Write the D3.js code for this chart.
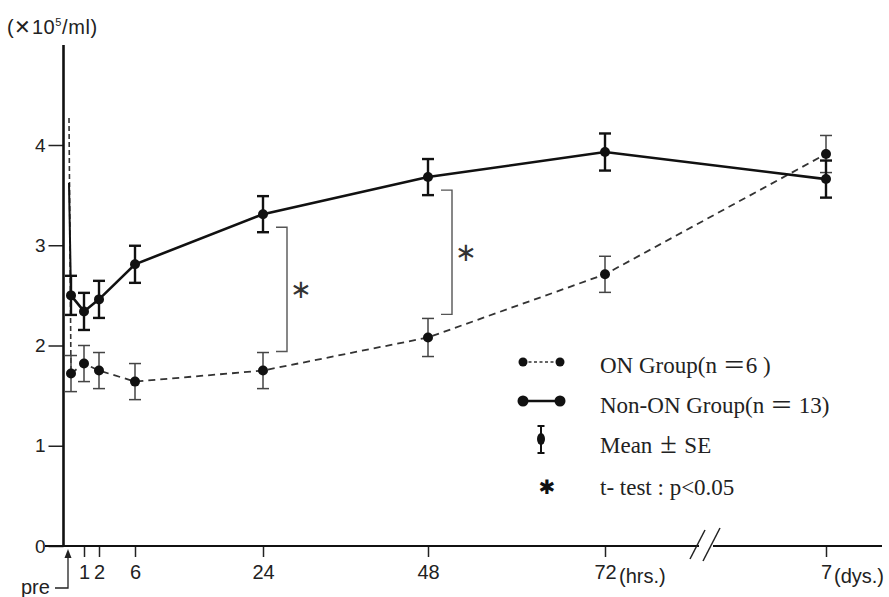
<!DOCTYPE html>
<html>
<head>
<meta charset="utf-8">
<script src="https://cdn.jsdelivr.net/npm/d3@7"></script>
<style>
  body{margin:0;background:#fff;}
  svg{display:block;}
</style>
</head>
<body>
<svg id="chart"></svg>
<script>
// time points (hours), 168 h = 7 days
var hours = [0, 1, 2, 6, 24, 48, 72, 168];
var tickLabels = ["", "1", "2", "6", "24", "48", "72", "7"];
var yTicks = [0, 1, 2, 3, 4];

// ON group (n=6), dashed
var onMean = [1.72, 1.82, 1.75, 1.64, 1.75, 2.08, 2.71, 3.91];
var onSE   = [0.18, 0.18, 0.18, 0.18, 0.18, 0.19, 0.18, 0.185];
// Non-ON group (n=13), solid
var nonMean = [2.50, 2.34, 2.46, 2.81, 3.31, 3.68, 3.93, 3.66];
var nonSE   = [0.195, 0.185, 0.185, 0.185, 0.18, 0.18, 0.185, 0.185];
// the lines coming down into the "pre" points
var onPreStart = 4.27;
var nonPreStart = 3.62;

// significance brackets
var sigHours = [24, 48];
var sigHigh = [3.18, 3.55];
var sigLow = [1.94, 2.31];

var legendLabels = ["ON Group(n \uff1d6 )", "Non-ON Group(n \uff1d 13)", "Mean \u00b1 SE", "t- test : p<0.05"];

var W = 889, H = 597;
var svg = d3.select("svg#chart")
            .attr("width", W)
            .attr("height", H);

var sans = "'Liberation Sans', Arial, Helvetica, sans-serif";
var serif = "'Liberation Serif', 'Times New Roman', 'Noto Sans CJK JP', serif";

var x = d3.scaleLinear()
          .domain(hours)
          .range([71, 84, 99, 135, 263, 428, 605, 826]);
var y = d3.scaleLinear()
          .domain([0, 4])
          .range([546, 145]);

var axisX = 63.5, axisTop = 45;

// y axis
var yAxis = d3.axisLeft(y)
              .tickValues(yTicks)
              .tickSize(15)
              .tickPadding(3)
              .tickFormat(d3.format("d"));
var yg = svg.append("g")
            .classed("yAxis", true)
            .attr("transform", "translate(" + axisX + ",0)")
            .call(yAxis);
yg.select(".domain").remove();
yg.selectAll(".tick line").attr("stroke", "#222").attr("stroke-width", 1.5);
yg.selectAll(".tick text")
  .attr("font-family", sans)
  .attr("font-size", 19)
  .attr("fill", "#222");
svg.append("line")
   .attr("x1", axisX).attr("x2", axisX)
   .attr("y1", axisTop).attr("y2", y(0))
   .attr("stroke", "#111").attr("stroke-width", 2.6);

// x axis with break
var xg = svg.append("g")
            .classed("xAxis", true)
            .attr("transform", "translate(0," + y(0) + ")")
            .call(d3.axisBottom(x)
                    .tickValues(hours.slice(1))
                    .tickSize(11)
                    .tickPadding(8)
                    .tickFormat(function(d){ return tickLabels[hours.indexOf(d)]; }));
xg.select(".domain").remove();
xg.selectAll(".tick line").attr("stroke", "#222").attr("stroke-width", 1.5);
xg.selectAll(".tick text")
  .attr("font-family", sans)
  .attr("font-size", 20)
  .attr("fill", "#222");

svg.append("line")
   .attr("x1", 45).attr("x2", 699)
   .attr("y1", y(0)).attr("y2", y(0))
   .attr("stroke", "#111").attr("stroke-width", 2.2);
svg.append("line")
   .attr("x1", 713).attr("x2", 882)
   .attr("y1", y(0)).attr("y2", y(0))
   .attr("stroke", "#111").attr("stroke-width", 2.2);
[[690, 559, 705, 530], [703, 561, 720, 528]].forEach(function(s){
  svg.append("line")
     .attr("x1", s[0]).attr("y1", s[1]).attr("x2", s[2]).attr("y2", s[3])
     .attr("stroke", "#222").attr("stroke-width", 1.5);
});

// unit labels
svg.append("text")
   .attr("x", x(72) + 14).attr("y", y(0) + 37)
   .attr("font-family", sans).attr("font-size", 20).attr("fill", "#222")
   .text("(hrs.)");
svg.append("text")
   .attr("x", x(168) + 8).attr("y", y(0) + 37)
   .attr("font-family", sans).attr("font-size", 20).attr("fill", "#222")
   .text("(dys.)");

// "pre" marker
svg.append("text")
   .attr("x", 21).attr("y", 594)
   .attr("font-family", sans).attr("font-size", 20).attr("fill", "#222")
   .text("pre");
svg.append("path")
   .attr("d", "M55,588H" + (x(0) - 3) + "V556")
   .attr("fill", "none").attr("stroke", "#222").attr("stroke-width", 1.3);
svg.append("path")
   .attr("d", "M" + (x(0) - 3) + ",549l-3.5,9h7z")
   .attr("fill", "#222");

// y title
var yt = svg.append("text")
            .attr("x", 7).attr("y", 34)
            .attr("font-family", sans).attr("font-size", 20)
            .attr("letter-spacing", 0.6).attr("fill", "#222");
yt.append("tspan").text("(\u2715");
yt.append("tspan").text("10");
yt.append("tspan").attr("font-size", 11).attr("dy", -8).text("5");
yt.append("tspan").attr("dy", 8).text("/ml)");

// series
function makeSeries(mean, se, start, opts){
  var pts = mean.map(function(m, i){ return {h: hours[i], v: m, se: se[i]}; });
  var g = svg.append("g");
  var line = d3.line()
               .x(function(d){ return x(d.h) + (d.dx || 0); })
               .y(function(d){ return y(d.v); });

  // the vertical line into "pre"
  g.append("path")
   .attr("d", line([{h: 0, v: start, dx: -2}, pts[0]]))
   .attr("fill", "none")
   .attr("stroke", opts.color)
   .attr("stroke-width", opts.preWidth)
   .attr("stroke-dasharray", opts.preDash);

  g.append("path")
   .attr("d", line(pts))
   .attr("fill", "none")
   .attr("stroke", opts.color)
   .attr("stroke-width", opts.width)
   .attr("stroke-dasharray", opts.dash);

  var bars = g.selectAll("g.bar")
              .data(pts)
              .enter()
              .append("g")
              .classed("bar", true);
  bars.append("line")
      .attr("x1", function(d){ return x(d.h); })
      .attr("x2", function(d){ return x(d.h); })
      .attr("y1", function(d){ return y(d.v + d.se); })
      .attr("y2", function(d){ return y(d.v - d.se); })
      .attr("stroke", opts.barColor).attr("stroke-width", opts.barWidth);
  [1, -1].forEach(function(s){
    bars.append("line")
        .attr("x1", function(d){ return x(d.h) - 6; })
        .attr("x2", function(d){ return x(d.h) + 6; })
        .attr("y1", function(d){ return y(d.v + s * d.se); })
        .attr("y2", function(d){ return y(d.v + s * d.se); })
        .attr("stroke", opts.barColor).attr("stroke-width", opts.barWidth);
  });
  bars.append("circle")
      .attr("cx", function(d){ return x(d.h); })
      .attr("cy", function(d){ return y(d.v); })
      .attr("r", 5)
      .attr("fill", "#111");
}

makeSeries(onMean, onSE, onPreStart,
  {color: "#333", width: 1.8, dash: "7,5", preWidth: 1.6, preDash: "5,3",
   barColor: "#444", barWidth: 1.5});
makeSeries(nonMean, nonSE, nonPreStart,
  {color: "#111", width: 2.6, dash: null, preWidth: 2, preDash: null,
   barColor: "#111", barWidth: 2.4});

// significance brackets
sigHours.forEach(function(h, i){
  var bx = x(h) + 24;
  svg.append("path")
     .attr("d", "M" + (bx - 11) + "," + y(sigHigh[i]) + "H" + bx +
                "V" + y(sigLow[i]) + "H" + (bx - 11))
     .attr("fill", "none").attr("stroke", "#555").attr("stroke-width", 1.4);
  svg.append("text")
     .attr("x", bx + 14)
     .attr("y", (y(sigHigh[i]) + y(sigLow[i])) / 2)
     .attr("dy", "0.35em")
     .attr("text-anchor", "middle")
     .attr("font-family", "'DejaVu Sans', sans-serif")
     .attr("font-size", 26).attr("fill", "#333")
     .text("\u2217");
});

// legend
var legend = svg.append("g")
                .classed("legend", true)
                .attr("transform", "translate(523,0)");
var rowY = [362, 401, 440, 487];
legend.selectAll("text.lbl")
      .data(legendLabels)
      .enter()
      .append("text")
      .classed("lbl", true)
      .attr("x", 77)
      .attr("y", function(d, i){ return rowY[i] + [11, 12, 13, 8][i]; })
      .attr("font-family", serif)
      .attr("font-size", 23)
      .attr("fill", "#222")
      .each(function(d){
        var t = d3.select(this);
        var parts = d.split("\u00b1");
        t.append("tspan").text(parts[0]);
        if (parts.length > 1) {
          t.append("tspan").attr("font-size", 30).attr("dx", 2).text("\u00b1");
          t.append("tspan").attr("dx", 2).text(parts[1]);
        }
      });

legend.append("line")
      .attr("x1", 0).attr("x2", 37).attr("y1", rowY[0]).attr("y2", rowY[0])
      .attr("stroke", "#333").attr("stroke-width", 1.5).attr("stroke-dasharray", "3,2.5");
legend.append("line")
      .attr("x1", 0).attr("x2", 37).attr("y1", rowY[1]).attr("y2", rowY[1])
      .attr("stroke", "#111").attr("stroke-width", 2.6);
[0, 37].forEach(function(cx){
  legend.append("circle").attr("cx", cx).attr("cy", rowY[0]).attr("r", 4.5).attr("fill", "#111");
  legend.append("circle").attr("cx", cx).attr("cy", rowY[1]).attr("r", 5.5).attr("fill", "#111");
});
legend.append("path")
      .attr("d", "M18,426V453M14.5,426H21.5M14.5,453H21.5")
      .attr("fill", "none").attr("stroke", "#111").attr("stroke-width", 2);
legend.append("ellipse")
      .attr("cx", 18).attr("cy", 439).attr("rx", 4).attr("ry", 6).attr("fill", "#111");
legend.append("text")
      .attr("x", 24).attr("y", rowY[3])
      .attr("dy", "0.35em")
      .attr("text-anchor", "middle")
      .attr("font-family", "'DejaVu Sans', sans-serif")
      .attr("font-size", 20).attr("fill", "#111")
      .text("\u2731");
</script>
</body>
</html>
